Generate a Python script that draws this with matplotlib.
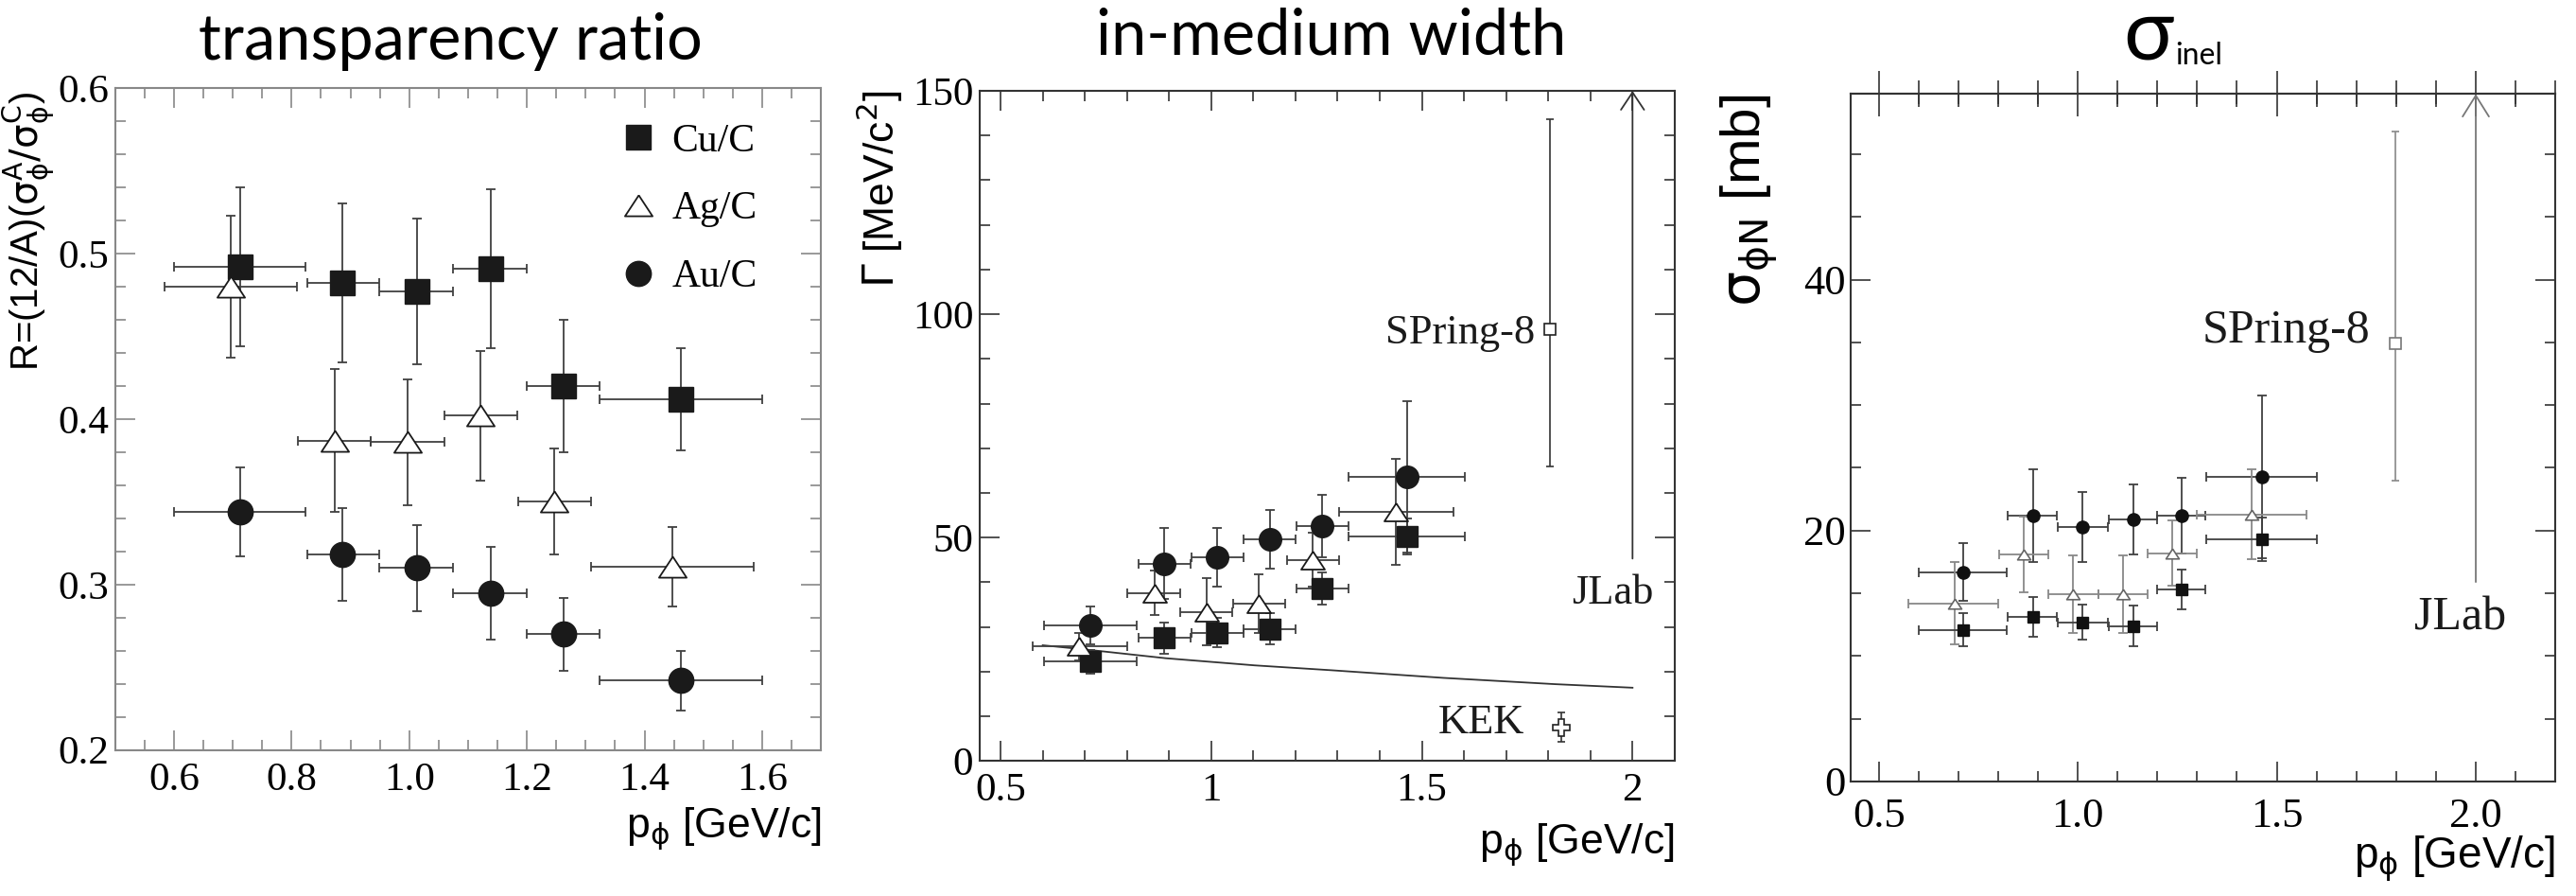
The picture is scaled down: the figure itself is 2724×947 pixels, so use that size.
import numpy as np
import matplotlib.pyplot as plt
from matplotlib.ticker import MultipleLocator, FormatStrFormatter

plt.rcParams['font.family'] = ['Liberation Serif', 'DejaVu Serif']
plt.rcParams['mathtext.fontset'] = 'dejavusans'

# ---- transparency ratio (panel 1) ----
tr_x = [0.712, 0.887, 1.013, 1.138, 1.262, 1.462]
tr_lo = [0.600, 0.826, 0.949, 1.074, 1.200, 1.324]
tr_hi = [0.824, 0.949, 1.074, 1.200, 1.324, 1.600]
cu_r = [0.492, 0.482, 0.477, 0.491, 0.420, 0.412]
cu_r_err = [0.048, 0.048, 0.044, 0.048, 0.040, 0.031]
au_r = [0.344, 0.318, 0.310, 0.295, 0.270, 0.242]
au_r_err = [0.027, 0.028, 0.026, 0.028, 0.022, 0.018]
ag_r_x = [0.697, 0.873, 0.997, 1.121, 1.247, 1.447]
ag_r_lo = [0.584, 0.810, 0.935, 1.060, 1.186, 1.309]
ag_r_hi = [0.809, 0.935, 1.060, 1.184, 1.309, 1.585]
ag_r = [0.480, 0.387, 0.386, 0.402, 0.350, 0.311]
ag_r_err = [0.043, 0.043, 0.038, 0.039, 0.032, 0.024]

# ---- in-medium width (panel 2) ----
w_x = [0.714, 0.889, 1.015, 1.140, 1.263, 1.464]
w_lo = [0.603, 0.827, 0.953, 1.076, 1.202, 1.327]
w_hi = [0.824, 0.951, 1.076, 1.201, 1.326, 1.601]
au_w = [30.4, 44.2, 45.6, 49.6, 52.6, 63.6]
au_w_err = [4.2, 8.0, 6.5, 6.5, 7.0, 17.0]
cu_w = [22.2, 27.5, 28.7, 29.6, 38.6, 50.3]
cu_w_err = [2.7, 3.5, 3.3, 3.5, 3.6, 4.0]
ag_w_x = [0.687, 0.865, 0.990, 1.113, 1.241, 1.439]
ag_w_lo = [0.576, 0.800, 0.927, 1.051, 1.179, 1.303]
ag_w_hi = [0.800, 0.926, 1.050, 1.175, 1.303, 1.575]
ag_w = [25.6, 37.6, 33.4, 35.2, 45.0, 55.8]
ag_w_err = [3.0, 5.0, 7.5, 6.5, 6.0, 11.8]
theory_x = [0.60, 0.707, 0.892, 1.103, 1.287, 1.551, 1.815, 2.0]
theory_w = [25.9, 24.9, 23.0, 21.4, 20.3, 18.6, 17.2, 16.4]
spring8_w = (1.803, 96.6, 66.0, 143.6)   # x, value, low, high
kek_w = (1.832, 7.5, 3.3)
jlab_w = (2.0, 45.3, 150.0)

# ---- sigma inel (panel 3) ----
s_x = [0.713, 0.888, 1.011, 1.139, 1.262, 1.462]
s_lo = [0.601, 0.825, 0.951, 1.078, 1.200, 1.324]
s_hi = [0.822, 0.948, 1.075, 1.200, 1.321, 1.601]
au_s = [16.7, 21.2, 20.3, 20.9, 21.2, 24.3]
au_s_err = [2.3, 3.7, 2.8, 2.8, 3.0, 6.5]
cu_s = [12.1, 13.1, 12.7, 12.4, 15.3, 19.3]
cu_s_err = [1.3, 1.6, 1.4, 1.6, 1.6, 1.7]
ag_s_x = [0.690, 0.865, 0.989, 1.113, 1.237, 1.437]
ag_s_lo = [0.575, 0.802, 0.925, 1.051, 1.176, 1.300]
ag_s_hi = [0.800, 0.925, 1.051, 1.175, 1.299, 1.574]
ag_s = [14.2, 18.1, 14.9, 14.9, 18.2, 21.3]
ag_s_err = [3.3, 3.0, 3.1, 3.1, 2.6, 3.6]
spring8_s = (1.799, 34.9, 24.0, 51.8)
jlab_s = (2.0, 15.9, 54.8)

tri = [(0, 0.76), (-1, -0.76), (1, -0.76), (0, 0.76)]


def xe(x, lo, hi):
    x = np.array(x)
    return [x - np.array(lo), np.array(hi) - x]


def style(ax, col, xmaj, xmin, ymaj, ymin, size=31):
    ax.xaxis.set_major_locator(MultipleLocator(xmaj))
    ax.xaxis.set_minor_locator(MultipleLocator(xmin))
    ax.yaxis.set_major_locator(MultipleLocator(ymaj))
    ax.yaxis.set_minor_locator(MultipleLocator(ymin))
    ax.tick_params(which='both', direction='in', top=True, right=True,
                   color=col, width=1.2, labelsize=size)
    ax.tick_params(which='major', length=15)
    ax.tick_params(which='minor', length=8)
    ax.tick_params(axis='x', pad=9)
    ax.tick_params(axis='y', pad=5)
    for s in ax.spines.values():
        s.set_color(col)
        s.set_linewidth(1.5)


fig = plt.figure(figsize=(27.24, 9.47), dpi=100)
ax1 = fig.add_axes([0.0447, 0.1629, 0.2740, 0.7389])
ax2 = fig.add_axes([0.3804, 0.1507, 0.2697, 0.7479])
ax3 = fig.add_axes([0.7185, 0.1278, 0.2735, 0.7674])

ek = dict(ecolor='#404040', elinewidth=1.3, capsize=3.5, capthick=1.3, zorder=3)

# panel 1
ax1.errorbar(tr_x, cu_r, yerr=cu_r_err, xerr=xe(tr_x, tr_lo, tr_hi), fmt='s', ms=18.5,
             mfc='#1a1a1a', mec='#1a1a1a', **ek)
ax1.errorbar(ag_r_x, ag_r, yerr=ag_r_err, xerr=xe(ag_r_x, ag_r_lo, ag_r_hi), fmt='none', **ek)
ax1.plot(ag_r_x, ag_r, ls='none', marker=tri, ms=21, mfc='white', mec='#1a1a1a', mew=1.3, zorder=4)
ax1.errorbar(tr_x, au_r, yerr=au_r_err, xerr=xe(tr_x, tr_lo, tr_hi), fmt='o', ms=19,
             mfc='#1a1a1a', mec='#1a1a1a', **ek)
ax1.set_xlim(0.5, 1.7)
ax1.set_ylim(0.2, 0.6)
style(ax1, '#888888', 0.2, 0.05, 0.1, 0.02)
ax1.xaxis.set_major_formatter(FormatStrFormatter('%.1f'))
ax1.yaxis.set_major_formatter(FormatStrFormatter('%.1f'))

h_cu = plt.Line2D([], [], ls='none', marker='s', ms=18.5, mfc='#1a1a1a', mec='#1a1a1a')
h_ag = plt.Line2D([], [], ls='none', marker=tri, ms=21, mfc='white', mec='#1a1a1a', mew=1.3)
h_au = plt.Line2D([], [], ls='none', marker='o', ms=19, mfc='#1a1a1a', mec='#1a1a1a')
ax1.legend([h_cu, h_ag, h_au], ['Cu/C', 'Ag/C', 'Au/C'], loc='upper left',
           bbox_to_anchor=(0.713, 0.947), frameon=False, fontsize=30,
           handlelength=1.0, handletextpad=0.35, labelspacing=0.8,
           borderpad=0, borderaxespad=0)

# panel 2
ax2.plot(theory_x, theory_w, color='#333333', lw=1.3, zorder=2)
ax2.errorbar(w_x, au_w, yerr=au_w_err, xerr=xe(w_x, w_lo, w_hi), fmt='o', ms=17,
             mfc='#1a1a1a', mec='#1a1a1a', **ek)
ax2.errorbar(ag_w_x, ag_w, yerr=ag_w_err, xerr=xe(ag_w_x, ag_w_lo, ag_w_hi), fmt='none', **ek)
ax2.plot(ag_w_x, ag_w, ls='none', marker=tri, ms=18, mfc='white', mec='#1a1a1a', mew=1.3, zorder=4)
ax2.errorbar(w_x, cu_w, yerr=cu_w_err, xerr=xe(w_x, w_lo, w_hi), fmt='s', ms=16.5,
             mfc='#1a1a1a', mec='#1a1a1a', **ek)
sx, sv, sl, sh = spring8_w
ax2.errorbar([sx], [sv], yerr=[[sv - sl], [sh - sv]], fmt='s', ms=9, mfc='white',
             mec='#222222', mew=1.2, ecolor='#333333', elinewidth=1.2, capsize=3, capthick=1.2)
kx, kv, ke = kek_w
ax2.errorbar([kx], [kv], yerr=[ke], fmt='P', ms=13, mfc='white', mec='#222222', mew=1.2,
             ecolor='#333333', elinewidth=1.2, capsize=3, capthick=1.2)
jx, jl, jh = jlab_w
ax2.annotate('', xy=(jx, jh), xytext=(jx, jl),
             arrowprops=dict(arrowstyle='->,head_length=0.33,head_width=0.22', lw=1.3,
                             color='#333333', shrinkA=0, shrinkB=0, mutation_scale=40))
ax2.text(1.769, 93.5, 'SPring-8', fontsize=32, ha='right', va='baseline', color='#1a1a1a')
ax2.text(1.953, 35.2, 'JLab', fontsize=32, ha='center', va='baseline', color='#1a1a1a')
ax2.text(1.642, 6.2, 'KEK', fontsize=32, ha='center', va='baseline', color='#1a1a1a')
ax2.set_xlim(0.451, 2.1)
ax2.set_ylim(0, 150)
style(ax2, '#333333', 0.5, 0.1, 50, 10)
ax2.xaxis.set_major_formatter(FormatStrFormatter('%g'))
ax2.yaxis.set_major_formatter(FormatStrFormatter('%g'))

# panel 3
ax3.errorbar(s_x, au_s, yerr=au_s_err, xerr=xe(s_x, s_lo, s_hi), fmt='o', ms=9.5,
             mfc='#111111', mec='#111111', **ek)
ax3.errorbar(ag_s_x, ag_s, yerr=ag_s_err, xerr=xe(ag_s_x, ag_s_lo, ag_s_hi), fmt='none',
             ecolor='#888888', elinewidth=1.3, capsize=3.5, capthick=1.3, zorder=3)
ax3.plot(ag_s_x, ag_s, ls='none', marker=tri, ms=10, mfc='white', mec='#666666', mew=1.2, zorder=4)
ax3.errorbar(s_x, cu_s, yerr=cu_s_err, xerr=xe(s_x, s_lo, s_hi), fmt='s', ms=9,
             mfc='#111111', mec='#111111', **ek)
sx, sv, sl, sh = spring8_s
ax3.errorbar([sx], [sv], yerr=[[sv - sl], [sh - sv]], fmt='s', ms=9, mfc='white',
             mec='#777777', mew=1.2, ecolor='#888888', elinewidth=1.2, capsize=3, capthick=1.2)
jx, jl, jh = jlab_s
ax3.annotate('', xy=(jx, jh), xytext=(jx, jl),
             arrowprops=dict(arrowstyle='->,head_length=0.4,head_width=0.25', lw=1.3,
                             color='#777777', shrinkA=0, shrinkB=0, mutation_scale=40))
ax3.text(1.734, 35.0, 'SPring-8', fontsize=36, ha='right', va='baseline', color='#1a1a1a')
ax3.text(1.96, 12.1, 'JLab', fontsize=36, ha='center', va='baseline', color='#1a1a1a')
ax3.set_xlim(0.43, 2.2)
ax3.set_ylim(0, 54.8)
style(ax3, '#333333', 0.5, 0.1, 20, 5, size=32)
ax3.tick_params(axis='x', top=False, pad=12)
ax3.tick_params(axis='y', pad=4)
ax3.xaxis.set_major_formatter(FormatStrFormatter('%.1f'))
ax3.yaxis.set_major_formatter(FormatStrFormatter('%g'))
top = ax3.secondary_xaxis('top')
top.xaxis.set_major_locator(MultipleLocator(0.5))
top.xaxis.set_minor_locator(MultipleLocator(0.1))
top.tick_params(which='both', direction='inout', labeltop=False, color='#333333', width=1.2)
top.tick_params(which='major', length=34)
top.tick_params(which='minor', length=20)
top.spines['top'].set_linewidth(1.5)
top.spines['top'].set_color('#333333')

# axis labels
sans = ['Liberation Sans', 'DejaVu Sans']
xl = r'p$_{\mathrm{\phi}}$ [GeV/c]'
ax1.text(1.0, -0.118, xl, transform=ax1.transAxes, ha='right', va='center', fontsize=32, family=sans)
ax2.text(1.0, -0.124, xl, transform=ax2.transAxes, ha='right', va='center', fontsize=32, family=sans)
ax3.text(1.0, -0.113, xl, transform=ax3.transAxes, ha='right', va='center', fontsize=33, family=sans)
ax1.text(-0.123, 0.994, r'R=(12/A)($\mathrm{\sigma_{\phi}^{A}/\sigma_{\phi}^{C}}$)', transform=ax1.transAxes,
         rotation=90, rotation_mode='anchor', ha='right', va='center', fontsize=29, family=sans)
ax2.text(-0.144, 1.0, r'$\mathrm{\Gamma}$ [MeV/c$^{2}$]', transform=ax2.transAxes,
         rotation=90, rotation_mode='anchor', ha='right', va='center', fontsize=32, family=sans)
ax3.text(-0.143, 1.0, r'$\mathrm{\sigma_{\phi N}}$ [mb]', transform=ax3.transAxes,
         rotation=90, rotation_mode='anchor', ha='right', va='center', fontsize=42, family=sans)

# titles
tf = ['Lato', 'DejaVu Sans']
fig.text(0.1749, 0.9335, 'transparency ratio', ha='center', va='baseline', fontsize=48, family=tf)
fig.text(0.5169, 0.9398, 'in-medium width', ha='center', va='baseline', fontsize=48, family=tf)
fig.text(0.8438, 0.9345, 'σ', ha='right', va='baseline', fontsize=64, family=tf)
fig.text(0.8445, 0.9282, 'inel', ha='left', va='baseline', fontsize=23, family=tf)

fig.savefig('out.png', dpi=100)
